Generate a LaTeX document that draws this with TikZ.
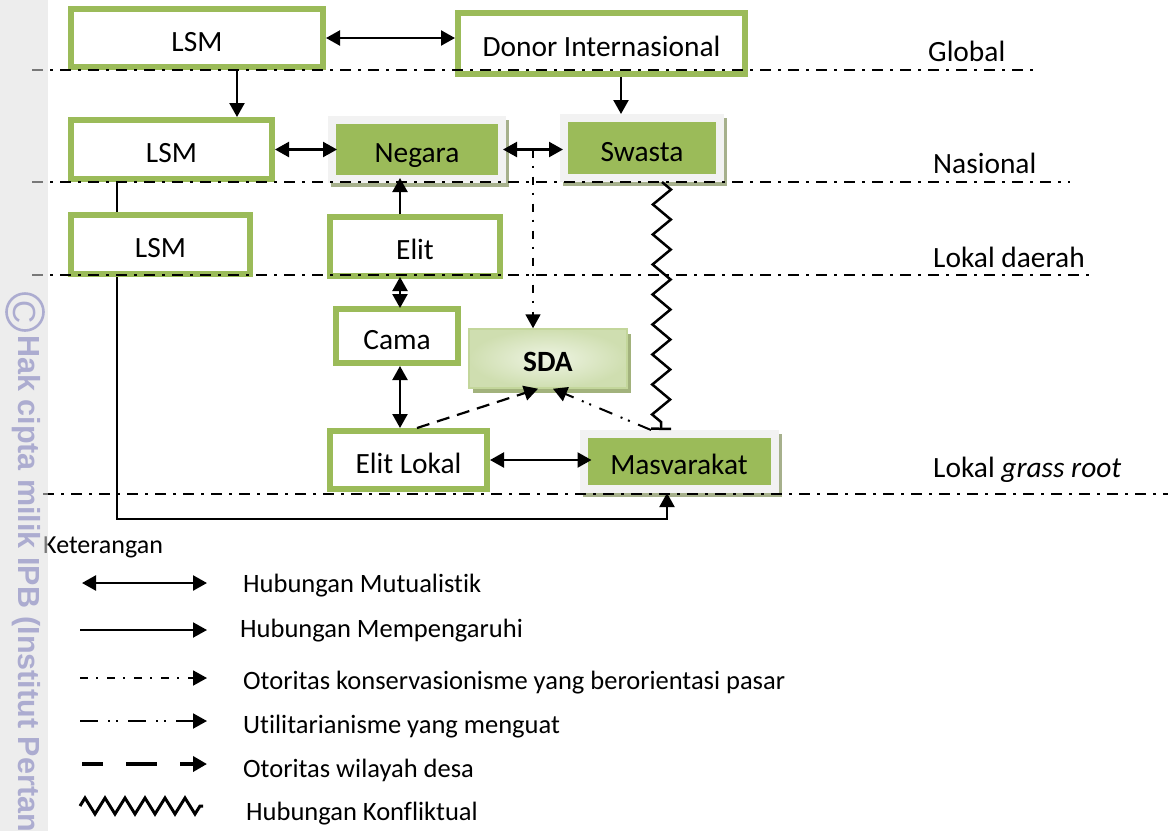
\documentclass[tikz,border=0pt]{standalone}
\usepackage{fontspec}
\setmainfont{Carlito}[Ligatures=NoCommon]
\newfontfamily\wmfont{Liberation Sans}
\usetikzlibrary{arrows.meta,decorations.pathmorphing,calc}

\definecolor{olive}{HTML}{9BBB59}
\definecolor{framegray}{HTML}{F2F2F2}
\definecolor{shadowolive}{RGB}{166,176,140}
\definecolor{sdalight}{HTML}{EEF4E3}
\definecolor{sdadark}{HTML}{CFDEB0}
\definecolor{sdaborder}{HTML}{C3D69B}
\definecolor{sdashadow}{RGB}{162,178,124}
\definecolor{stripgray}{RGB}{222,222,222}
\definecolor{wmcolor}{RGB}{172,172,208}

\tikzset{
  boxtext/.style={font=\fontsize{29.4}{31}\selectfont, text height=26pt, text depth=0pt, inner sep=0pt},
  plainbox/.style={boxtext, draw=olive, line width=6pt, fill=white},
  greenbox/.style={boxtext, fill=olive, draw=framegray, line width=8pt,
    preaction={draw=shadowolive, fill=shadowolive, line width=8pt,
      transform canvas={shift={(3pt,-4pt)}}}},
  sdabox/.style={boxtext, font=\fontsize{29.4}{31}\selectfont\bfseries,
    draw=sdaborder, line width=1.5pt, inner color=sdalight, outer color=sdadark,
    preaction={fill=sdashadow, transform canvas={shift={(4pt,-5pt)}}}},
  arr/.style={line width=2.3pt, -{Triangle[length=14pt,width=15pt]}},
  darr/.style={line width=2.3pt, {Triangle[length=14pt,width=15pt]}-{Triangle[length=14pt,width=15pt]}},
  levelline/.style={line width=1.5pt, dash pattern=on 11pt off 7pt on 2.5pt off 7.5pt},
  dashdotarr/.style={line width=1.8pt, dash pattern=on 8pt off 8pt on 2pt off 9pt,
    -{Triangle[length=14pt,width=15pt]}},
  dashdotdotarr/.style={line width=2pt, dash pattern=on 14pt off 9pt on 2pt off 6pt on 2pt off 9pt,
    -{Triangle[length=14pt,width=15pt]}},
  dashedarr/.style={line width=2.2pt, dash pattern=on 13pt off 8pt,
    -{Triangle[length=14pt,width=15pt]}},
  conflict/.style={line width=2.5pt, decorate,
    decoration={zigzag, segment length=30pt, amplitude=9pt}},
  leveltext/.style={font=\fontsize{29.4}{31}\selectfont, inner sep=0pt, anchor=base west},
  legtext/.style={font=\fontsize{26.5}{28}\selectfont, inner sep=0pt, anchor=base west},
  wm/.style={text=wmcolor, inner sep=0pt},
}

\begin{document}
\begin{tikzpicture}[x=1pt, y=-1pt]
\useasboundingbox (0,0) rectangle (1168,831);
\clip (0,0) rectangle (1168,831);
\fill[white] (0,0) rectangle (1168,831);

% ---- actors ----
\node[plainbox, minimum width=252pt, minimum height=58pt] (lsmG) at (197,38) {LSM};
\node[plainbox, minimum width=287pt, minimum height=61pt] (donor) at (601.5,43.5) {Donor Internasional};
\node[plainbox, minimum width=201pt, minimum height=59pt] (lsmN) at (171.5,149.5) {LSM};
\node[greenbox, minimum width=170pt, minimum height=59pt] (negara) at (417,149.5) {Negara};
\node[greenbox, minimum width=156pt, minimum height=60pt] (swasta) at (642,148) {Swasta};
\node[plainbox, minimum width=170pt, minimum height=59pt] (elit) at (415,246.5) {Elit};
\node[plainbox, minimum width=122pt, minimum height=54pt] (cama) at (397,336) {Cama};
\node[sdabox, minimum width=158pt, minimum height=59pt] (sda) at (548,358.5) {SDA};
\node[plainbox, minimum width=157pt, minimum height=58pt] (elitlokal) at (408.5,460) {Elit Lokal};
\node[greenbox, minimum width=191pt, minimum height=55pt] (masy) at (679,461.5) {Masvarakat};

% national LSM reaching the grass-root community (runs behind the regional LSM box)
\coordinate (nDown) at ([xshift=-54.5pt]lsmN.south);
\coordinate (mUp) at ([xshift=-12pt]masy.south);
\coordinate (mCorner) at ([yshift=-26pt]mUp);
\draw[arr, line width=2pt] (nDown) |- (mCorner) -- (mUp);

\node[plainbox, minimum width=179pt, minimum height=59pt] (lsmD) at (160.5,244.5) {LSM};

% ---- levels ----
\draw[levelline] (32,70) -- (1040,70);
\draw[levelline] (32,182) -- (1070,182);
\draw[levelline] (32,275) -- (1096,275);
\draw[levelline] (43,494) -- (1168,494);
\node[leveltext] (lvGlobal) at (928,61) {Global};
\node[leveltext] (lvNas) at (933,173) {Nasional};
\node[leveltext] (lvDaerah) at (933,267) {Lokal daerah};
\node[leveltext] (lvRoot) at (933,477) {Lokal \textit{grass root}};

% ---- relations ----
\draw[darr] (lsmG.east) -- (lsmG.east -| donor.west);
\coordinate (gDown) at ([xshift=40pt]lsmG.south);
\draw[arr] (gDown) -- (gDown |- lsmN.north);
\coordinate (dDown) at ([xshift=19.5pt]donor.south);
\draw[arr] (dDown) -- (dDown |- swasta.north);

\draw[darr, shorten >=-9pt] (lsmN.east) -- (lsmN.east -| negara.west);
\draw[darr, shorten <=-3pt, shorten >=-3pt] (negara.east) -- (negara.east -| swasta.west);

\coordinate (eUp) at ([xshift=-15pt]elit.north);
\draw[arr, shorten >=-5pt] (eUp) -- (eUp |- negara.south);
\draw[darr, shorten <=-2pt, shorten >=-2pt] (eUp |- elit.south) -- (eUp |- cama.north);
\draw[darr] (eUp |- cama.south) -- (eUp |- elitlokal.north);
\draw[darr, shorten >=-12pt] (elitlokal.east) -- (elitlokal.east -| masy.west);

\coordinate (sIn) at ([xshift=-15pt]sda.north);
\draw[dashdotarr] (sIn |- negara.east) -- (sIn);

\coordinate (elUp) at ([xshift=8.5pt]elitlokal.north);
\coordinate (sdaL) at ([xshift=-10pt]sda.south);
\draw[dashedarr] (elUp) -- (sdaL);

\coordinate (mL) at ([xshift=-28pt]masy.north);
\coordinate (sdaR) at ([xshift=5pt]sda.south);
\draw[dashdotdotarr] (mL) -- (sdaR);

\coordinate (zTop) at ([xshift=20pt]swasta.south);
\coordinate (zBot) at ([xshift=-18pt]masy.north);
\draw[conflict, -{Bar[width=20pt,line width=2.5pt]}] (zTop) -- (zBot);

% ---- legend ----
\node[legtext, font=\fontsize{26}{28}\selectfont] (ket) at (43,553) {Keterangan};

\coordinate (l1a) at (82,583);  \coordinate (l1b) at (207,583);
\coordinate (l2a) at (80,630);  \coordinate (l2b) at (207,630);
\coordinate (l3a) at (80,678);  \coordinate (l3b) at (207,678);
\coordinate (l4a) at (80,721);  \coordinate (l4b) at (207,721);
\coordinate (l5a) at (82,764);  \coordinate (l5b) at (207,764);
\coordinate (l6a) at (80,806);  \coordinate (l6b) at (203,806);

\draw[darr, line width=2.4pt] (l1a) -- (l1b);
\draw[arr, line width=2pt] (l2a) -- (l2b);
\draw[dashdotarr] (l3a) -- (l3b);
\draw[dashdotdotarr, dash pattern=on 18pt off 10pt on 2pt off 6pt on 2pt off 10pt] (l4a) -- (l4b);
\draw[line width=4pt, dash pattern=on 21pt off 23pt on 31pt off 23pt,
      -{Triangle[length=14pt,width=15pt]}] (l5a) -- (l5b);
\draw[line width=3pt, decorate, decoration={zigzag, segment length=20pt, amplitude=8pt}] (l6a) -- (l6b);

\node[legtext] (t1) at (243,592) {Hubungan Mutualistik};
\node[legtext] (t2) at (240,637) {Hubungan Mempengaruhi};
\node[legtext] (t3) at (243,689) {Otoritas konservasionisme yang berorientasi pasar};
\node[legtext] (t4) at (243,733) {Utilitarianisme yang menguat};
\node[legtext] (t5) at (243,777) {Otoritas wilayah desa};
\node[legtext] (t6) at (246,820) {Hubungan Konfliktual};

% ---- copyright strip ----
\fill[stripgray, opacity=0.54] (0,0) rectangle (48,831);
\draw[wmcolor, line width=2.6pt] (25,312) circle[radius=18.5];
\node[wm, font=\wmfont\fontsize{32}{32}\selectfont, rotate=-90] (wmc) at (25,312) {C};
\node[wm, font=\wmfont\bfseries\fontsize{30.5}{32}\selectfont, rotate=-90, anchor=base west]
  (wmtext) at (18,335) {Hak cipta milik IPB (Institut Pertan};
\end{tikzpicture}
\end{document}
